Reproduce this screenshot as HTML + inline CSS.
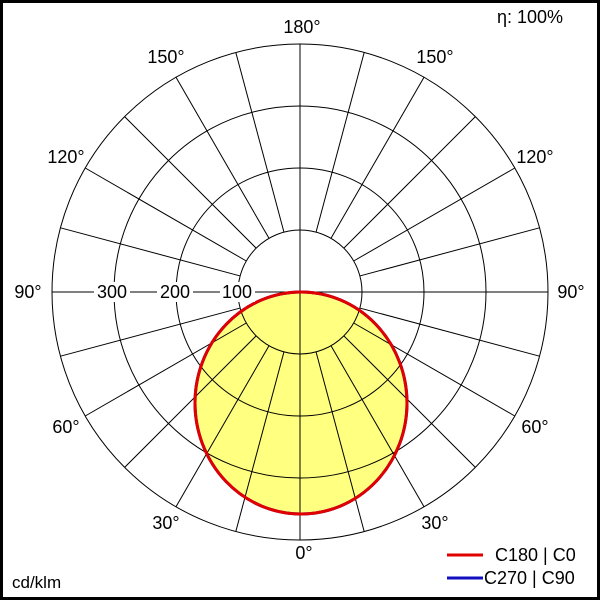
<!DOCTYPE html>
<html><head><style>
html,body{margin:0;padding:0;background:#fff}
svg{display:block}
text{font-family:"Liberation Sans",Arial,sans-serif;font-size:18px;fill:#000}
</style></head><body>
<svg width="600" height="600" viewBox="0 0 600 600">
<rect x="1.5" y="1.5" width="597" height="597" fill="#fff" stroke="#000" stroke-width="3"/>
<ellipse cx="301" cy="403" rx="106" ry="111" fill="#ffff80" stroke="#1010c0" stroke-width="3"/>
<g fill="none" stroke="#000" stroke-width="1">
<circle cx="300" cy="292" r="62"/>
<circle cx="300" cy="292" r="124"/>
<circle cx="300" cy="292" r="186"/>
<circle cx="300" cy="292" r="248"/>
<g id="rad"></g>
<line x1="300" y1="44" x2="300" y2="540"/>
<line x1="52" y1="292" x2="548" y2="292"/>
</g>
<ellipse cx="301" cy="403" rx="106" ry="111" fill="none" stroke="#e00000" stroke-width="3"/>
<g text-anchor="middle">
<rect x="94" y="282" width="36" height="20" fill="#fff"/>
<rect x="157" y="282" width="36" height="20" fill="#fff"/>
<rect x="220" y="282" width="35" height="20" fill="#fff"/>
<rect x="8" y="282" width="40" height="20" fill="#fff"/>
<rect x="552" y="282" width="40" height="20" fill="#fff"/>
<text x="112" y="298">300</text>
<text x="175" y="298">200</text>
<text x="237" y="298">100</text>
<text x="302" y="33">180°</text>
<text x="166" y="63">150°</text>
<text x="435" y="63">150°</text>
<text x="66" y="163">120°</text>
<text x="535" y="163">120°</text>
<text x="28" y="298">90°</text>
<text x="571" y="298">90°</text>
<text x="66" y="433">60°</text>
<text x="535" y="433">60°</text>
<text x="166" y="529">30°</text>
<text x="435" y="529">30°</text>
<text x="304" y="559">0°</text>
</g>
<text x="497" y="23">η: 100%</text>
<text x="12" y="588" style="font-size:17px">cd/klm</text>
<line x1="447" y1="555" x2="483" y2="555" stroke="#e00000" stroke-width="3"/>
<text x="495" y="561">C180 | C0</text>
<line x1="447" y1="578" x2="483" y2="578" stroke="#1010c0" stroke-width="3"/>
<text x="484" y="584">C270 | C90</text>
</svg>
<script>
var g=document.getElementById('rad'),s='';
for(var a=15;a<360;a+=15){if(a%90==0)continue;var r=a*Math.PI/180,c=Math.cos(r),n=Math.sin(r);
s+='<line x1="'+(300+62*n)+'" y1="'+(292+62*c)+'" x2="'+(300+248*n)+'" y2="'+(292+248*c)+'"/>';}
g.innerHTML=s;
</script>
</body></html>
